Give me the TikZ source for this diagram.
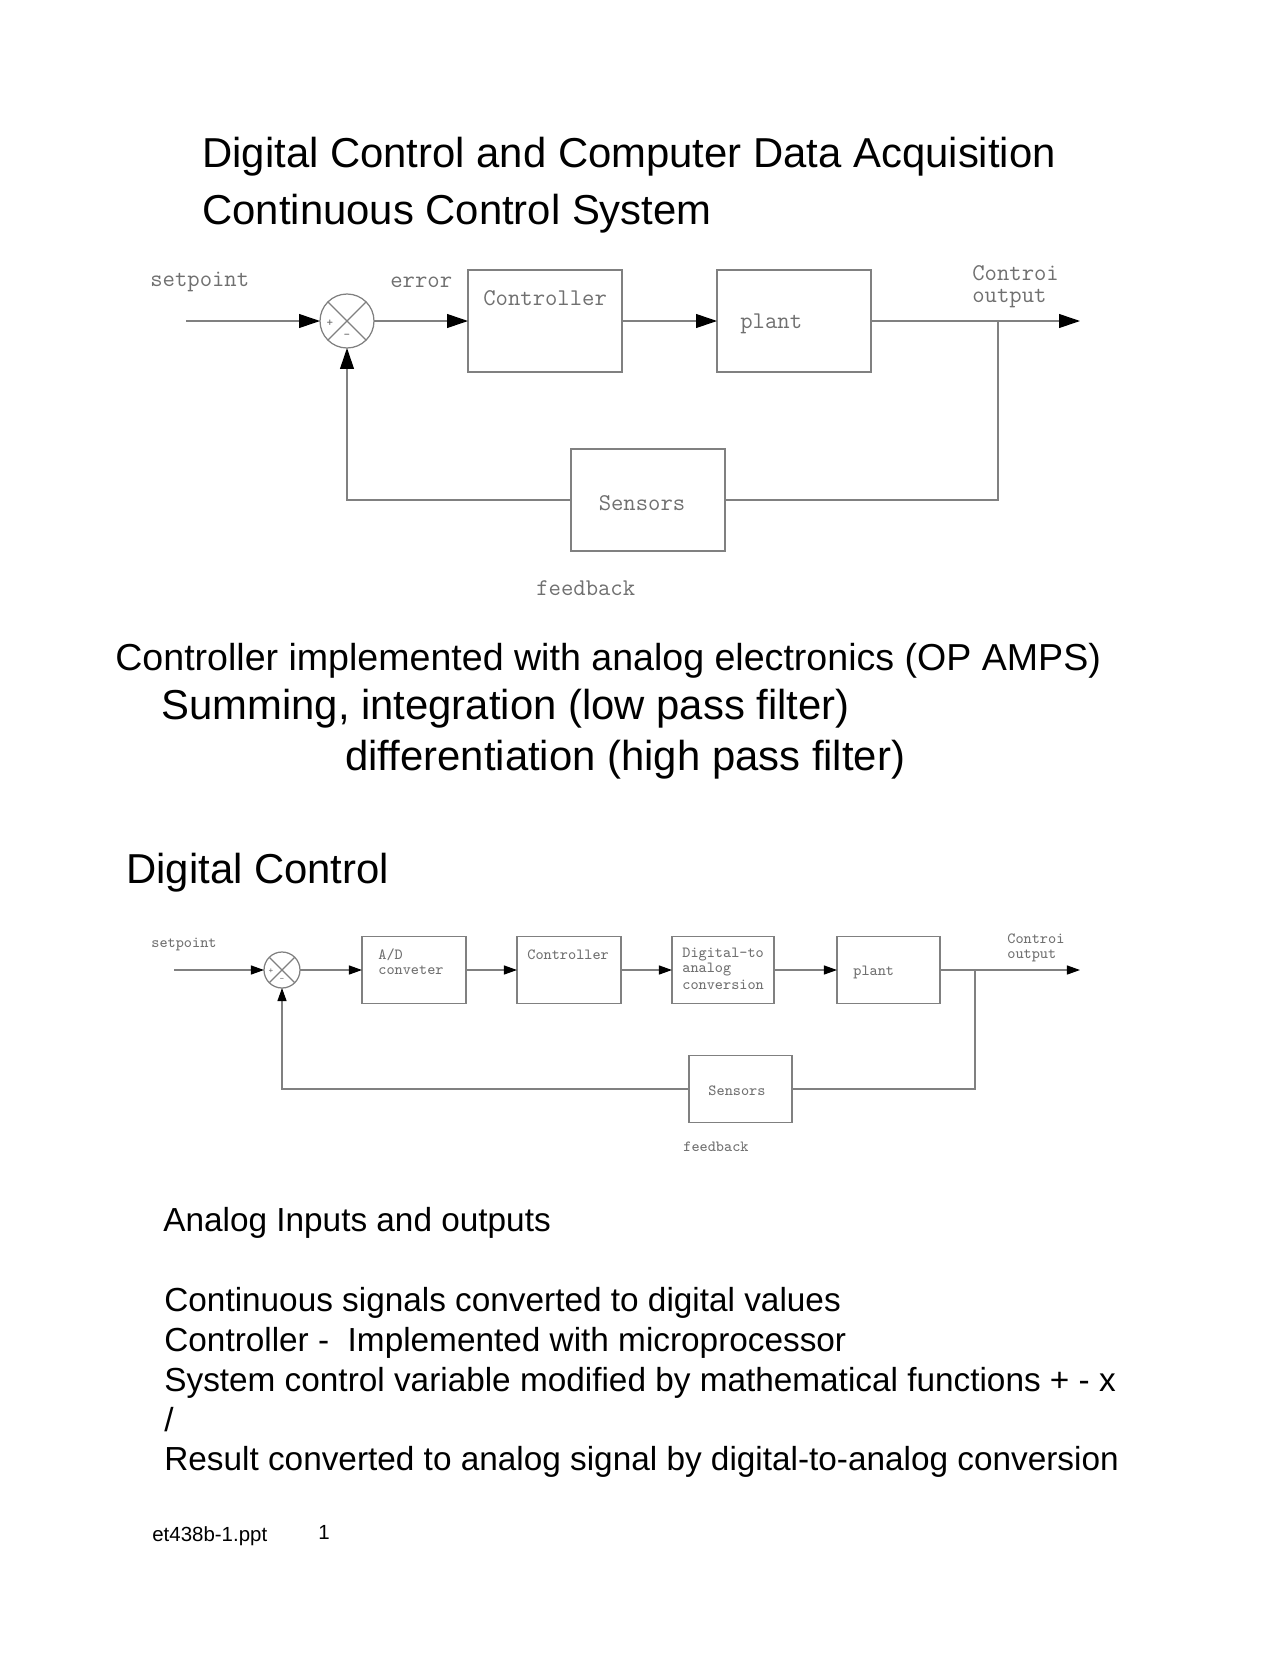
\documentclass[tikz,border=0pt]{standalone}
\usepackage{fontspec}
\setmainfont{Liberation Sans}
\usetikzlibrary{arrows.meta}
\definecolor{ln}{HTML}{808080}
\definecolor{tx}{HTML}{707070}
\begin{document}
\begin{tikzpicture}[x=0.5669pt,y=-0.5669pt,
  blk/.style={draw=ln, line width=0.7pt, inner sep=0pt, outer sep=0pt},
  box/.style 2 args={blk, rectangle, minimum width=#1*0.5669pt, minimum height=#2*0.5669pt},
  sumc/.style={blk, circle, minimum size=#1*0.5669pt},
  wire/.style={draw=ln, line width=0.7pt},
  arA/.style={-{Triangle[length=11.9pt,width=7.9pt,color=black]}},
  arB/.style={-{Triangle[length=7.4pt,width=5.1pt,color=black]}},
  big/.style={font=\fontsize{23.72}{28}\selectfont, anchor=base west, inner sep=0pt},
  mid/.style={font=\fontsize{21.3}{26}\selectfont, anchor=base west, inner sep=0pt},
  body/.style={font=\fontsize{18.9}{23}\selectfont, anchor=base west, inner sep=0pt},
  foot/.style={font=\fontsize{11.6}{14}\selectfont, anchor=base west, inner sep=0pt},
  cadA/.style={font=\ttfamily\fontsize{13.6}{16}\selectfont, text=tx, anchor=west, inner sep=0pt},
  cadB/.style={font=\ttfamily\fontsize{8.8}{10}\selectfont, text=tx, anchor=west, inner sep=0pt},
  sgnA/.style={font=\ttfamily\fontsize{7}{8}\selectfont, text=tx, inner sep=0pt},
  sgnB/.style={font=\ttfamily\fontsize{5}{6}\selectfont, text=tx, inner sep=0pt}
]
\useasboundingbox (0,0) rectangle (1280,1656);
\fill[white] (0,0) rectangle (1280,1656);

% ---------- headings ----------
\node[big] (h1) at (202,167) {Digital Control and Computer Data Acquisition};
\node[big] (h2) at (202,224) {Continuous Control System};

% ---------- continuous diagram ----------
\node[sumc=54] (sum1) at (347,321) {};
\draw[wire] (sum1.north west) -- (sum1.south east);
\draw[wire] (sum1.north east) -- (sum1.south west);
\node[sgnA] (p1) at (330,323) {+};
\node[sgnA] (m1) at (347,336) {-};
\node[box={154}{102}] (ctrl1) at (545,321) {};
\node[box={154}{102}] (plant1) at (794,321) {};
\node[box={154}{102}] (sens1) at (648,500) {};
\coordinate (in1) at (186,321);
\coordinate (out1) at (1080,321);
\coordinate (br1) at (998,321);

\draw[wire,arA] (in1) -- (sum1.west);
\draw[wire,arA] (sum1.east) -- (ctrl1.west);
\draw[wire,arA] (ctrl1.east) -- (plant1.west);
\draw[wire,arA] (plant1.east) -- (out1);
\draw[wire] (br1) |- (sens1.east);
\draw[wire,arA] (sens1.west) -| (sum1.south);

\node[cadA] (sp1) at (150,282) {setpoint};
\node[cadA] (er1) at (390,282) {error};
\node[cadA] (ct1) at (483,298) {Controller};
\node[cadA] (pl1) at (740,324) {plant};
\node[cadA, anchor=base west] (co1) at (972,280) {Controi};
\node[cadA, anchor=base west] (ou1) at (972,302) {output};
\node[cadA, anchor=center] (se1) at (642,503) {Sensors};
\node[cadA] (fb1) at (536,588) {feedback};

% ---------- middle text ----------
\node[mid] (l1) at (115,670) {Controller implemented with analog electronics (OP AMPS)};
\node[big] (l2) at (161,719) {Summing, integration (low pass filter)};
\node[big] (l3) at (345,770) {differentiation (high pass filter)};
\node[big] (h3) at (126,883) {Digital Control};

% ---------- digital diagram ----------
\node[sumc=36] (sum2) at (282,970) {};
\draw[wire] (sum2.north west) -- (sum2.south east);
\draw[wire] (sum2.north east) -- (sum2.south west);
\node[sgnB] (p2) at (271,971) {+};
\node[sgnB] (m2) at (282,980) {-};
\node[box={104}{67}] (ad) at (414,970) {};
\node[box={104}{67}] (ctrl2) at (569,970) {};
\node[box={102}{67}] (da) at (723,970) {};
\node[box={103}{67}] (plant2) at (888.5,970) {};
\node[box={103}{67}] (sens2) at (740.5,1089) {};
\coordinate (in2) at (174,970);
\coordinate (out2) at (1080,970);
\coordinate (br2) at (975,970);

\draw[wire,arB] (in2) -- (sum2.west);
\draw[wire,arB] (sum2.east) -- (ad.west);
\draw[wire,arB] (ad.east) -- (ctrl2.west);
\draw[wire,arB] (ctrl2.east) -- (da.west);
\draw[wire,arB] (da.east) -- (plant2.west);
\draw[wire,arB] (plant2.east) -- (out2);
\draw[wire] (br2) |- (sens2.east);
\draw[wire,arB] (sens2.west) -| (sum2.south);

\node[cadB] (sp2) at (151,944) {setpoint};
\node[cadB] (ad1) at (378,955) {A/D};
\node[cadB] (ad2) at (378,970) {conveter};
\node[cadB] (ct2) at (527,955) {Controller};
\node[cadB] (da1) at (682,955) {Digital-to};
\node[cadB] (da2) at (682,970) {analog};
\node[cadB] (da3) at (682,985) {conversion};
\node[cadB] (pl2) at (853,972) {plant};
\node[cadB, anchor=base west] (co2) at (1007,943) {Controi};
\node[cadB, anchor=base west] (ou2) at (1007,958) {output};
\node[cadB, anchor=center] (se2) at (737,1091) {Sensors};
\node[cadB] (fb2) at (683,1147) {feedback};

% ---------- bottom text ----------
\node[body] (b1) at (163,1231) {Analog Inputs and outputs};
\node[body] (b2) at (164,1311) {Continuous signals converted to digital values};
\node[body] (b3) at (164,1351) {Controller -\ \ Implemented with microprocessor};
\node[body] (b4) at (164,1391) {System control variable modified by mathematical functions + - x};
\node[body] (b5) at (164,1431) {/};
\node[body] (b6) at (164,1470) {Result converted to analog signal by digital-to-analog conversion};

\node[foot] (f1) at (152,1541) {et438b-1.ppt};
\node[foot] (f2) at (318,1539) {1};
\end{tikzpicture}
\end{document}
